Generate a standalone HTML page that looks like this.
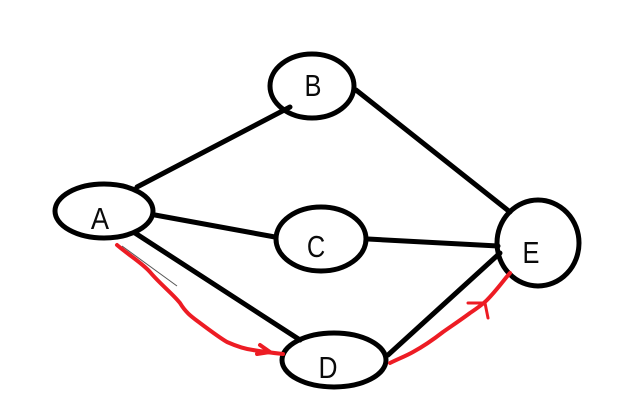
<!DOCTYPE html>
<html><head><meta charset="utf-8"><style>
html,body{margin:0;padding:0;background:#fff;width:626px;height:407px;overflow:hidden}
svg{display:block}
text{font-family:"Liberation Sans",sans-serif;font-size:31px;fill:#0a0a0a;text-anchor:middle}
</style></head><body>
<svg width="626" height="407" viewBox="0 0 626 407" xmlns="http://www.w3.org/2000/svg">
<g fill="none" stroke="#000" stroke-width="5" stroke-linecap="round">
<ellipse cx="104" cy="211" rx="49" ry="27"/>
<ellipse cx="312" cy="86" rx="42" ry="32"/>
<ellipse cx="321" cy="239" rx="45" ry="32"/>
<ellipse cx="334" cy="360" rx="52" ry="27"/>
<ellipse cx="538" cy="243" rx="41" ry="43"/>
<path d="M137 187L290 107M155 215L275 237M135 233L300 340M356 90L510 212M368 239L498 246M388 355L500 253"/>
</g>
<path d="M122 246L177 286" stroke="#555" stroke-width="1" fill="none"/>
<g fill="none" stroke="#ed1c24" stroke-width="4" stroke-linecap="round" stroke-linejoin="round">
<path d="M117 245C130 256 142 263 150 272C160 284 172 293 180 303C186 313 192 317 200 323C212 332 220 338 227 342C236 346 245 349 253 350C265 352 274 353 283 354"/>
<path d="M260 345L270 352L257 354" stroke-width="4"/>
<path d="M390 363C398 359 406 356 413 352C424 346 434 339 443 332C453 325 462 319 470 313C476 309 482 305 487 300C496 291 503 281 510 273"/>
<path d="M468 303L485 303L488 318" stroke-width="3"/>
</g>
<text transform="translate(100 229) scale(.88 1)">A</text>
<text transform="translate(313 96) scale(.82 1)">B</text>
<text transform="translate(316 257) scale(.82 1)">C</text>
<text transform="translate(328 378) scale(.85 1)">D</text>
<text transform="translate(531 263) scale(.82 1)">E</text>
</svg>
</body></html>
